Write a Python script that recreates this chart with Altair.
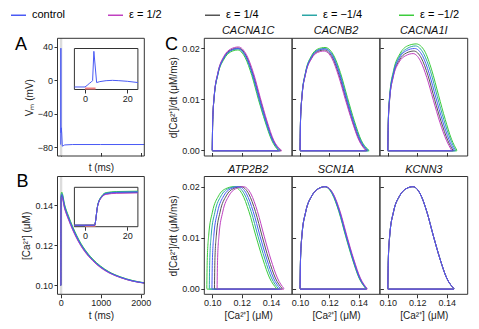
import altair as alt
import pandas as pd

# ---------------- data ----------------
legend_order = ["control", "ε = 1/2", "ε = 1/4", "ε = −1/4", "ε = −1/2"]
series_colors = ["#4a5af5", "#c040c0", "#555555", "#2ba6a6", "#3ccc3c"]
draw_order = ["ε = −1/2", "ε = −1/4", "ε = 1/4", "ε = 1/2", "control"]

# Panel A: membrane potential (mV) vs time (ms)
a_t = [-5, 0, 3.5, 4.2, 5.5, 12, 25, 40, 60, 100, 300, 1000, 2090]
a_v = [-77, -77, -57, 38, -63, -57, -63, -79, -78.5, -77.5, -77, -77, -77]
# Panel A inset
ai_t = [-5, 0, 1, 2, 3, 3.6, 4.2, 5.5, 7, 10, 13, 16, 20, 25]
ai_v = [-77, -77, -72, -66, -61, -57, 36, -63, -60, -57, -56, -57, -59, -63]

# Panel B: [Ca2+] (uM) vs time (ms)
b_t = [-5, 4.5, 6, 8, 10, 15, 25, 100, 200, 300, 400, 500, 600, 800, 1000, 1200, 1500, 1800, 2090]
b_ctrl = [0.1000, 0.1000, 0.1270, 0.1395, 0.1435, 0.1450, 0.1455, 0.1392, 0.1335, 0.1285, 0.1242, 0.1205, 0.1175, 0.1127, 0.1092, 0.1066, 0.1040, 0.1022, 0.1012]
b_p2 = [0.1000, 0.1000, 0.1265, 0.1385, 0.1423, 0.1438, 0.1443, 0.1382, 0.1326, 0.1277, 0.1235, 0.1199, 0.1169, 0.1123, 0.1088, 0.1063, 0.1038, 0.1021, 0.1011]
b_p4 = [0.1000, 0.1000, 0.1268, 0.1390, 0.1429, 0.1444, 0.1449, 0.1387, 0.1330, 0.1281, 0.1238, 0.1202, 0.1172, 0.1125, 0.1090, 0.1065, 0.1039, 0.1021, 0.1011]
b_m4 = [0.1000, 0.1000, 0.1272, 0.1400, 0.1441, 0.1456, 0.1461, 0.1397, 0.1340, 0.1289, 0.1246, 0.1208, 0.1178, 0.1129, 0.1094, 0.1067, 0.1041, 0.1023, 0.1012]
b_m2 = [0.1000, 0.1000, 0.1275, 0.1405, 0.1447, 0.1462, 0.1467, 0.1403, 0.1345, 0.1294, 0.1250, 0.1212, 0.1181, 0.1132, 0.1096, 0.1069, 0.1042, 0.1024, 0.1013]

stim_t = [0, 5]            # stimulus bar in the insets (ms)
band_t = [-20, 40]         # grey highlight of the inset window (ms)
inset_t = [-5, 25]         # inset time window (ms)

# Panel C: d[Ca]/dt (uM/ms) vs [Ca] (uM), one loop per series
gene_names = ["CACNA1C", "CACNB2", "CACNA1I", "ATP2B2", "SCN1A", "KCNN3"]

c1_x_ctrl = [0.1000, 0.1003, 0.1013, 0.1038, 0.1080, 0.1125, 0.1175, 0.1228, 0.1274, 0.1320, 0.1366, 0.1411, 0.1460]
c1_y_ctrl = [0.0000, 0.0055, 0.0105, 0.0150, 0.0182, 0.0196, 0.0200, 0.0185, 0.0150, 0.0102, 0.0057, 0.0020, 0.0000]
c1_x_p2 = [0.1000, 0.1003, 0.1013, 0.1038, 0.1080, 0.1126, 0.1178, 0.1232, 0.1279, 0.1326, 0.1372, 0.1418, 0.1472]
c1_y_p2 = [0.0000, 0.0055, 0.0106, 0.0152, 0.0185, 0.0199, 0.0203, 0.0188, 0.0153, 0.0104, 0.0058, 0.0020, 0.0000]
c1_x_p4 = [0.1000, 0.1003, 0.1013, 0.1038, 0.1080, 0.1125, 0.1176, 0.1230, 0.1276, 0.1323, 0.1369, 0.1414, 0.1466]
c1_y_p4 = [0.0000, 0.0055, 0.0105, 0.0151, 0.0183, 0.0197, 0.0201, 0.0186, 0.0151, 0.0103, 0.0057, 0.0020, 0.0000]
c1_x_m4 = [0.1000, 0.1003, 0.1013, 0.1038, 0.1080, 0.1125, 0.1174, 0.1226, 0.1272, 0.1317, 0.1363, 0.1408, 0.1454]
c1_y_m4 = [0.0000, 0.0055, 0.0104, 0.0149, 0.0181, 0.0195, 0.0199, 0.0184, 0.0149, 0.0101, 0.0056, 0.0020, 0.0000]
c1_x_m2 = [0.1000, 0.1003, 0.1013, 0.1038, 0.1080, 0.1124, 0.1172, 0.1224, 0.1269, 0.1314, 0.1360, 0.1404, 0.1448]
c1_y_m2 = [0.0000, 0.0055, 0.0104, 0.0148, 0.0179, 0.0193, 0.0197, 0.0182, 0.0147, 0.0100, 0.0056, 0.0020, 0.0000]

c2_x_ctrl = [0.1000, 0.1003, 0.1013, 0.1037, 0.1078, 0.1120, 0.1167, 0.1221, 0.1268, 0.1315, 0.1362, 0.1408, 0.1458]
c2_y_ctrl = [0.0000, 0.0056, 0.0106, 0.0151, 0.0183, 0.0196, 0.0199, 0.0185, 0.0150, 0.0102, 0.0057, 0.0020, 0.0000]
c2_x_p2 = [0.1000, 0.1003, 0.1013, 0.1037, 0.1078, 0.1118, 0.1164, 0.1216, 0.1262, 0.1308, 0.1355, 0.1400, 0.1446]
c2_y_p2 = [0.0000, 0.0056, 0.0105, 0.0149, 0.0180, 0.0192, 0.0195, 0.0181, 0.0146, 0.0100, 0.0056, 0.0020, 0.0000]
c2_x_p4 = [0.1000, 0.1003, 0.1013, 0.1037, 0.1078, 0.1119, 0.1166, 0.1219, 0.1265, 0.1312, 0.1358, 0.1404, 0.1452]
c2_y_p4 = [0.0000, 0.0056, 0.0105, 0.0150, 0.0181, 0.0194, 0.0197, 0.0183, 0.0148, 0.0101, 0.0056, 0.0020, 0.0000]
c2_x_m4 = [0.1000, 0.1003, 0.1013, 0.1037, 0.1078, 0.1120, 0.1168, 0.1224, 0.1271, 0.1318, 0.1365, 0.1412, 0.1464]
c2_y_m4 = [0.0000, 0.0056, 0.0106, 0.0152, 0.0184, 0.0197, 0.0200, 0.0186, 0.0151, 0.0103, 0.0057, 0.0020, 0.0000]
c2_x_m2 = [0.1000, 0.1003, 0.1013, 0.1037, 0.1078, 0.1121, 0.1170, 0.1226, 0.1274, 0.1322, 0.1369, 0.1416, 0.1470]
c2_y_m2 = [0.0000, 0.0056, 0.0107, 0.0153, 0.0186, 0.0199, 0.0202, 0.0188, 0.0153, 0.0104, 0.0058, 0.0020, 0.0000]

c3_x_ctrl = [0.1000, 0.1003, 0.1013, 0.1038, 0.1080, 0.1128, 0.1182, 0.1235, 0.1281, 0.1327, 0.1372, 0.1416, 0.1452]
c3_y_ctrl = [0.0000, 0.0055, 0.0105, 0.0150, 0.0182, 0.0196, 0.0200, 0.0186, 0.0151, 0.0103, 0.0058, 0.0021, 0.0000]
c3_x_p2 = [0.1000, 0.1003, 0.1012, 0.1036, 0.1076, 0.1122, 0.1172, 0.1221, 0.1265, 0.1310, 0.1354, 0.1398, 0.1434]
c3_y_p2 = [0.0000, 0.0053, 0.0100, 0.0143, 0.0173, 0.0186, 0.0190, 0.0176, 0.0143, 0.0098, 0.0055, 0.0020, 0.0000]
c3_x_p4 = [0.1000, 0.1003, 0.1013, 0.1037, 0.1078, 0.1125, 0.1177, 0.1228, 0.1273, 0.1318, 0.1363, 0.1407, 0.1443]
c3_y_p4 = [0.0000, 0.0054, 0.0102, 0.0146, 0.0177, 0.0191, 0.0195, 0.0181, 0.0147, 0.0100, 0.0056, 0.0020, 0.0000]
c3_x_m4 = [0.1000, 0.1003, 0.1013, 0.1039, 0.1082, 0.1131, 0.1188, 0.1243, 0.1290, 0.1336, 0.1381, 0.1425, 0.1461]
c3_y_m4 = [0.0000, 0.0056, 0.0108, 0.0154, 0.0186, 0.0200, 0.0205, 0.0190, 0.0155, 0.0106, 0.0060, 0.0022, 0.0000]
c3_x_m2 = [0.1000, 0.1003, 0.1013, 0.1039, 0.1083, 0.1133, 0.1193, 0.1250, 0.1298, 0.1345, 0.1390, 0.1433, 0.1470]
c3_y_m2 = [0.0000, 0.0057, 0.0110, 0.0157, 0.0190, 0.0205, 0.0209, 0.0195, 0.0158, 0.0108, 0.0061, 0.0022, 0.0000]

c4_y = [0.0000, 0.0055, 0.0105, 0.0150, 0.0182, 0.0196, 0.0200, 0.0186, 0.0151, 0.0103, 0.0058, 0.0021, 0.0000]
c4_x_ctrl = [0.0998, 0.1001, 0.1011, 0.1036, 0.1078, 0.1125, 0.1180, 0.1233, 0.1279, 0.1325, 0.1371, 0.1416, 0.1463]
c4_x_p2 = [0.1033, 0.1036, 0.1046, 0.1071, 0.1113, 0.1159, 0.1213, 0.1263, 0.1308, 0.1353, 0.1398, 0.1443, 0.1488]
c4_x_p4 = [0.1015, 0.1018, 0.1028, 0.1053, 0.1095, 0.1142, 0.1196, 0.1248, 0.1294, 0.1339, 0.1384, 0.1429, 0.1476]
c4_x_m4 = [0.0980, 0.0983, 0.0993, 0.1018, 0.1060, 0.1108, 0.1163, 0.1218, 0.1265, 0.1311, 0.1358, 0.1403, 0.1450]
c4_x_m2 = [0.0963, 0.0966, 0.0976, 0.1001, 0.1043, 0.1091, 0.1147, 0.1203, 0.1250, 0.1297, 0.1344, 0.1390, 0.1438]

c5_y = [0.0000, 0.0055, 0.0105, 0.0150, 0.0182, 0.0196, 0.0200, 0.0186, 0.0151, 0.0103, 0.0058, 0.0021, 0.0000]
c5_x_ctrl = [0.1000, 0.1003, 0.1013, 0.1038, 0.1080, 0.1124, 0.1170, 0.1222, 0.1268, 0.1314, 0.1360, 0.1405, 0.1452]
c5_x_p2 = [0.1000, 0.1003, 0.1013, 0.1038, 0.1080, 0.1125, 0.1173, 0.1226, 0.1273, 0.1319, 0.1365, 0.1410, 0.1457]
c5_x_p4 = [0.1000, 0.1003, 0.1013, 0.1038, 0.1080, 0.1124, 0.1171, 0.1224, 0.1270, 0.1316, 0.1362, 0.1407, 0.1454]
c5_x_m4 = [0.1000, 0.1003, 0.1013, 0.1038, 0.1080, 0.1124, 0.1169, 0.1220, 0.1266, 0.1312, 0.1358, 0.1403, 0.1450]
c5_x_m2 = [0.1000, 0.1003, 0.1013, 0.1038, 0.1080, 0.1123, 0.1168, 0.1218, 0.1264, 0.1310, 0.1356, 0.1401, 0.1448]

c6_x = [0.1000, 0.1003, 0.1013, 0.1038, 0.1080, 0.1124, 0.1171, 0.1220, 0.1265, 0.1310, 0.1355, 0.1400, 0.1450]
c6_y = [0.0000, 0.0055, 0.0105, 0.0150, 0.0182, 0.0196, 0.0200, 0.0186, 0.0151, 0.0103, 0.0058, 0.0021, 0.0000]

c_return_rate = -0.00008   # slow decay phase, runs along the x-axis

# ---------------- layout (pixels inside the chart) ----------------
W, H = 463, 313
TICK = 3.5
FONT = "Liberation Sans"
FRAME = "#333333"
LX = (49.5, 136.3)
ROWS = [(30.3, 148.0), (168.5, 286.3)]
CX = [(196.3, 284.1), (284.1, 371.9), (371.9, 459.7)]
INX = (66.4, 129.9)
INY = [(40.5, 81.5), (179.3, 218.7)]

t_dom = [-80, 2090]
a_dom = [-90.7, 49.8]
b_dom = [0.0955, 0.1545]
ai_dom = [-85, 45]
bi_dom = [0.098, 0.152]
cx_dom = [0.0946, 0.1543]
cy_dom = [-0.0011, 0.0220]


def sc(domain, rng):
    return alt.Scale(domain=domain, range=list(rng), zero=False, nice=False)


def xaxis(bottom, values, labels=True, title=None, inward=False, fmt="d", tpad=2):
    return alt.Axis(orient="bottom", offset=bottom - H - (TICK if inward else 0), values=values,
                    labels=labels, tickSize=TICK, title=title, titlePadding=tpad, labelPadding=1,
                    format=fmt)


def yaxis(left, values, labels=True, title=None, inward=False, fmt="d"):
    return alt.Axis(orient="left", offset=-(left + (TICK if inward else 0)), values=values,
                    labels=labels, tickSize=TICK, title=title, labelPadding=1.5, titlePadding=3,
                    format=fmt)


color_enc = alt.Color(
    "series:N",
    scale=alt.Scale(domain=legend_order, range=series_colors),
    legend=alt.Legend(orient="none", legendX=2, legendY=-1.5, direction="horizontal",
                      columns=5, gridAlign="all", columnPadding=33, symbolType="stroke",
                      symbolSize=225, symbolStrokeWidth=1.5, labelFont=FONT, labelFontSize=11,
                      labelOffset=5, title=None, padding=0, rowPadding=0),
)

one = pd.DataFrame({"k": [0]})


def frame(x0, x1, y0, y1, fill="transparent"):
    return alt.Chart(one).mark_rect(fill=fill, stroke=FRAME, strokeWidth=1).encode(
        x=alt.value(x0), x2=alt.value(x1), y=alt.value(y0), y2=alt.value(y1))


layers = []

# ---------- Panel A ----------
tA = sc(t_dom, LX)
yA = sc(a_dom, (ROWS[0][1], ROWS[0][0]))
layers.append(alt.Chart(pd.DataFrame({"t0": [band_t[0]], "t1": [band_t[1]]})).mark_rect(color="#dcdcdc").encode(
    x=alt.X("t0:Q", scale=tA, axis=None), x2="t1:Q",
    y=alt.value(ROWS[0][0]), y2=alt.value(ROWS[0][1])))
layers.append(alt.Chart(pd.DataFrame({"t": a_t, "v": a_v})).mark_line(strokeWidth=1, color=series_colors[0]).encode(
    x=alt.X("t:Q", scale=tA, axis=xaxis(ROWS[0][1], [0, 1000, 2000], labels=False, title="t (ms)", inward=True, tpad=6)),
    y=alt.Y("v:Q", scale=yA, axis=yaxis(LX[0], [-80, -40, 0, 40], title="Vₘ (mV)"))))
layers.append(frame(LX[0], LX[1], ROWS[0][0], ROWS[0][1]))
# inset A
tAi = sc(inset_t, INX)
yAi = sc(ai_dom, (INY[0][1], INY[0][0]))
layers.append(frame(INX[0], INX[1], INY[0][0], INY[0][1], fill="white"))
layers.append(alt.Chart(pd.DataFrame({"t0": [stim_t[0]], "t1": [stim_t[1]]})).mark_rule(color="#f07f7f", strokeWidth=2).encode(
    x=alt.X("t0:Q", scale=tAi, axis=None), x2="t1:Q", y=alt.value(INY[0][1] - 1)))
layers.append(alt.Chart(pd.DataFrame({"t": ai_t, "v": ai_v})).mark_line(strokeWidth=1, color=series_colors[0]).encode(
    x=alt.X("t:Q", scale=tAi, axis=xaxis(INY[0][1], [0, 20])),
    y=alt.Y("v:Q", scale=yAi, axis=None)))

# ---------- Panel B ----------
b_series = {"control": b_ctrl, "ε = 1/2": b_p2, "ε = 1/4": b_p4, "ε = −1/4": b_m4, "ε = −1/2": b_m2}
b_df = pd.DataFrame([{"series": s, "t": t, "c": c} for s in draw_order for t, c in zip(b_t, b_series[s])])
b_df_in = b_df[b_df["t"] <= inset_t[1]]
tB = sc(t_dom, LX)
yB = sc(b_dom, (ROWS[1][1], ROWS[1][0]))
layers.append(alt.Chart(pd.DataFrame({"t0": [band_t[0]], "t1": [band_t[1]]})).mark_rect(color="#dcdcdc").encode(
    x=alt.X("t0:Q", scale=tB, axis=None), x2="t1:Q",
    y=alt.value(ROWS[1][0]), y2=alt.value(ROWS[1][1])))
layers.append(alt.Chart(b_df).mark_line(strokeWidth=1, interpolate="monotone").encode(
    x=alt.X("t:Q", scale=tB, axis=xaxis(ROWS[1][1], [0, 1000, 2000], title="t (ms)", tpad=3)),
    y=alt.Y("c:Q", scale=yB, axis=yaxis(LX[0], [0.10, 0.12, 0.14], title="[Ca²⁺] (μM)", fmt=".2f")),
    color=color_enc, detail="series:N"))
layers.append(frame(LX[0], LX[1], ROWS[1][0], ROWS[1][1]))
tBi = sc(inset_t, INX)
yBi = sc(bi_dom, (INY[1][1], INY[1][0]))
layers.append(frame(INX[0], INX[1], INY[1][0], INY[1][1], fill="white"))
layers.append(alt.Chart(pd.DataFrame({"t0": [stim_t[0]], "t1": [stim_t[1]]})).mark_rule(color="#f07f7f", strokeWidth=2).encode(
    x=alt.X("t0:Q", scale=tBi, axis=None), x2="t1:Q", y=alt.value(INY[1][1] - 1)))
layers.append(alt.Chart(b_df_in).mark_line(strokeWidth=1, interpolate="monotone").encode(
    x=alt.X("t:Q", scale=tBi, axis=xaxis(INY[1][1], [0, 20])),
    y=alt.Y("c:Q", scale=yBi, axis=None),
    color=color_enc, detail="series:N"))

# ---------- Panel C ----------
c_x = [
    {"control": c1_x_ctrl, "ε = 1/2": c1_x_p2, "ε = 1/4": c1_x_p4, "ε = −1/4": c1_x_m4, "ε = −1/2": c1_x_m2},
    {"control": c2_x_ctrl, "ε = 1/2": c2_x_p2, "ε = 1/4": c2_x_p4, "ε = −1/4": c2_x_m4, "ε = −1/2": c2_x_m2},
    {"control": c3_x_ctrl, "ε = 1/2": c3_x_p2, "ε = 1/4": c3_x_p4, "ε = −1/4": c3_x_m4, "ε = −1/2": c3_x_m2},
    {"control": c4_x_ctrl, "ε = 1/2": c4_x_p2, "ε = 1/4": c4_x_p4, "ε = −1/4": c4_x_m4, "ε = −1/2": c4_x_m2},
    {"control": c5_x_ctrl, "ε = 1/2": c5_x_p2, "ε = 1/4": c5_x_p4, "ε = −1/4": c5_x_m4, "ε = −1/2": c5_x_m2},
    {s: c6_x for s in legend_order},
]
c_y = [
    {"control": c1_y_ctrl, "ε = 1/2": c1_y_p2, "ε = 1/4": c1_y_p4, "ε = −1/4": c1_y_m4, "ε = −1/2": c1_y_m2},
    {"control": c2_y_ctrl, "ε = 1/2": c2_y_p2, "ε = 1/4": c2_y_p4, "ε = −1/4": c2_y_m4, "ε = −1/2": c2_y_m2},
    {"control": c3_y_ctrl, "ε = 1/2": c3_y_p2, "ε = 1/4": c3_y_p4, "ε = −1/4": c3_y_m4, "ε = −1/2": c3_y_m2},
    {s: c4_y for s in legend_order},
    {s: c5_y for s in legend_order},
    {s: c6_y for s in legend_order},
]

title_rows = []
for k in range(6):
    r, col = divmod(k, 3)
    x0, x1 = CX[col]
    top, bot = ROWS[r]
    xs = sc(cx_dom, (x0, x1))
    ys = sc(cy_dom, (bot, top))
    cur = pd.DataFrame([{"series": s, "x": x, "y": y} for s in draw_order for x, y in zip(c_x[k][s], c_y[k][s])])
    ret = pd.DataFrame([{"series": s, "x0": c_x[k][s][-1], "x1": c_x[k][s][0], "y": c_return_rate} for s in draw_order])
    xax = xaxis(bot, [0.10, 0.12, 0.14], labels=(r == 1), title=("[Ca²⁺] (μM)" if r == 1 else None),
                inward=(r == 0), fmt=".2f", tpad=3)
    yax = yaxis(x0, [0.00, 0.01, 0.02], labels=(col == 0),
                title=("d[Ca²⁺]/dt (μM/ms)" if col == 0 else None), inward=(col > 0), fmt=".2f")
    layers.append(alt.Chart(ret).mark_rule(strokeWidth=1).encode(
        x=alt.X("x0:Q", scale=xs, axis=None), x2="x1:Q",
        y=alt.Y("y:Q", scale=ys, axis=None), color=color_enc))
    layers.append(alt.Chart(cur).mark_line(strokeWidth=1, interpolate="monotone").encode(
        x=alt.X("x:Q", scale=xs, axis=xax), y=alt.Y("y:Q", scale=ys, axis=yax),
        color=color_enc, detail="series:N"))
    layers.append(frame(x0, x1, top, bot))
    title_rows.append({"label": gene_names[k], "px": (x0 + x1) / 2, "py": top - 4})

layers.append(alt.Chart(pd.DataFrame(title_rows)).mark_text(
    font=FONT, fontSize=11, fontStyle="italic", baseline="alphabetic", align="center", color="#111").encode(
    x=alt.X("px:Q", scale=None, axis=None), y=alt.Y("py:Q", scale=None, axis=None), text="label:N"))

panel_letters = ["A", "B", "C"]
letter_pos = [(7, ROWS[0][0] + 12), (8.5, ROWS[1][0] + 10), (157, ROWS[0][0] + 12)]
layers.append(alt.Chart(pd.DataFrame({"label": panel_letters, "px": [p[0] for p in letter_pos],
                                      "py": [p[1] for p in letter_pos]})).mark_text(
    font=FONT, fontSize=18, baseline="alphabetic", align="left", color="#000").encode(
    x=alt.X("px:Q", scale=None, axis=None), y=alt.Y("py:Q", scale=None, axis=None), text="label:N"))

chart = (
    alt.layer(*layers)
    .resolve_scale(x="independent", y="independent", color="shared")
    .properties(width=W, height=H, padding=0, autosize=alt.AutoSizeParams(type="none"), background="white")
    .configure_view(strokeWidth=0)
    .configure_axis(domain=False, grid=False, labelFont=FONT, titleFont=FONT, labelFontSize=9,
                    titleFontSize=10, titleFontWeight="normal", tickColor=FRAME, labelColor="#222",
                    titleColor="#222", tickWidth=1)
)

chart.save("out.html", embed_options={"renderer": "svg", "actions": False})
